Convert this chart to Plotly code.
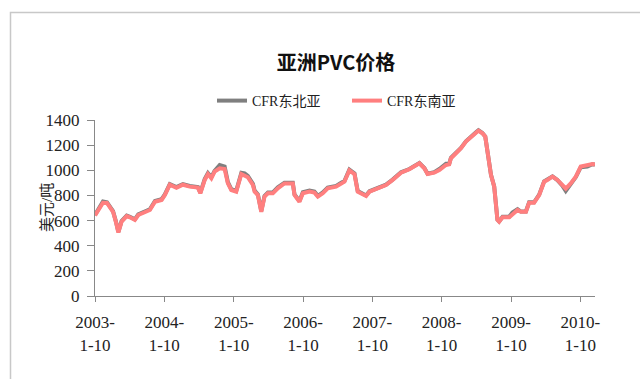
import plotly.graph_objects as go

# Weekly-ish observations, USD/tonne
dates = [
    "2003-01-10", "2003-02-05", "2003-02-21", "2003-03-14", "2003-03-30", "2003-04-15",
    "2003-04-30", "2003-05-13", "2003-05-30", "2003-06-26", "2003-07-13", "2003-08-08",
    "2003-08-26", "2003-09-30", "2003-10-26", "2003-11-22", "2003-12-27", "2004-01-13",
    "2004-02-08", "2004-03-14", "2004-04-17", "2004-05-23", "2004-07-05", "2004-07-18",
    "2004-08-10", "2004-08-27", "2004-09-14", "2004-10-01", "2004-10-28", "2004-11-23",
    "2004-12-10", "2004-12-28", "2005-01-23", "2005-02-19", "2005-03-08", "2005-03-25",
    "2005-04-21", "2005-04-30", "2005-05-17", "2005-06-04", "2005-06-21", "2005-07-09",
    "2005-08-04", "2005-08-30", "2005-10-04", "2005-11-17", "2005-11-26", "2005-12-22",
    "2006-01-09", "2006-02-13", "2006-03-11", "2006-03-29", "2006-04-24", "2006-05-20",
    "2006-07-03", "2006-07-30", "2006-08-16", "2006-09-11", "2006-10-08", "2006-10-25",
    "2006-11-12", "2006-12-08", "2006-12-26", "2007-01-30", "2007-02-16", "2007-03-23",
    "2007-04-27", "2007-06-10", "2007-07-24", "2007-09-15", "2007-10-11", "2007-10-28",
    "2007-12-02", "2007-12-29", "2008-02-02", "2008-02-19", "2008-02-28", "2008-03-26",
    "2008-04-21", "2008-05-17", "2008-06-12", "2008-07-09", "2008-07-22", "2008-08-12",
    "2008-08-27", "2008-09-08", "2008-09-26", "2008-10-13", "2008-10-30", "2008-11-08",
    "2008-11-26", "2008-12-31", "2009-01-17", "2009-02-13", "2009-03-02", "2009-03-29",
    "2009-04-15", "2009-05-11", "2009-06-07", "2009-07-03", "2009-07-20", "2009-08-16",
    "2009-09-11", "2009-10-07", "2009-10-25", "2009-11-20", "2009-12-17", "2010-01-12",
    "2010-02-16", "2010-03-14", "2010-03-28",
]

cfr_se_asia = [
    640, 700, 742, 740, 697, 670,
    590, 505, 591, 636, 626, 605,
    644, 670, 684, 750, 764, 803,
    885, 860, 885, 870, 862, 817,
    923, 970, 936, 989, 1016, 1010,
    896, 843, 830, 970, 960, 945,
    883, 830, 803, 670, 790, 817,
    817, 857, 895, 895, 803, 750,
    817, 830, 822, 790, 817, 857,
    870, 895, 909, 1000, 970, 830,
    817, 796, 830, 849, 865, 883,
    923, 981, 1008, 1055, 1016, 970,
    981, 1002, 1042, 1048, 1096, 1135,
    1175, 1228, 1267, 1299, 1315, 1294,
    1267, 1135, 963, 870, 605, 591,
    626, 626, 652, 685, 670, 670,
    742, 742, 803, 909, 923, 950,
    923, 883, 855, 896, 949, 1030,
    1040, 1050, 1045,
]

cfr_ne_asia = [
    645, 708, 752, 745, 705, 675,
    595, 510, 596, 640, 630, 610,
    650, 676, 690, 756, 770, 808,
    890, 866, 890, 875, 866, 822,
    930, 978, 945, 995, 1042, 1030,
    905, 850, 836, 980, 975, 955,
    892, 838, 808, 676, 796, 823,
    824, 864, 900, 900, 808, 756,
    825, 838, 830, 797, 823, 862,
    876, 900, 914, 1005, 975, 835,
    820, 800, 833, 852, 868, 886,
    926, 984, 1010, 1058, 1018, 972,
    985, 1010, 1052, 1052, 1100, 1138,
    1178, 1230, 1270, 1302, 1318, 1296,
    1268, 1136, 964, 872, 607, 593,
    630, 630, 665, 690, 672, 672,
    745, 745, 806, 912, 925, 952,
    922, 878, 835, 892, 946, 1025,
    1030, 1048, 1045,
]

tick_dates = ["2003-01-10", "2004-01-10", "2005-01-10", "2006-01-10",
              "2007-01-10", "2008-01-10", "2009-01-10", "2010-01-10"]
tick_labels = ["2003-<br>1-10", "2004-<br>1-10", "2005-<br>1-10", "2006-<br>1-10",
               "2007-<br>1-10", "2008-<br>1-10", "2009-<br>1-10", "2010-<br>1-10"]
y_ticks = [0, 200, 400, 600, 800, 1000, 1200, 1400]

serif = "Liberation Serif, Noto Sans CJK SC, serif"

fig = go.Figure()
fig.add_trace(go.Scatter(
    x=dates, y=cfr_ne_asia, mode="lines", name="CFR东北亚",
    line=dict(color="#7f7f7f", width=4),
))
fig.add_trace(go.Scatter(
    x=dates, y=cfr_se_asia, mode="lines", name="CFR东南亚",
    line=dict(color="#ff7f7f", width=4),
))

fig.update_layout(
    width=640, height=379,
    margin=dict(l=95, r=45, t=120, b=83),
    paper_bgcolor="white", plot_bgcolor="white",
    font=dict(family=serif, size=17, color="#222222"),
    title=dict(
        text="<b>亚洲PVC价格</b>",
        font=dict(family="Noto Sans CJK SC, sans-serif", size=20, color="#111111"),
        x=336 / 640, xanchor="center", xref="container",
        y=1 - 63 / 379, yanchor="middle", yref="container",
    ),
    legend=dict(
        orientation="h", x=(212 - 95) / 500, xanchor="left",
        y=(296 - 101) / 176, yanchor="middle",
        font=dict(family=serif, size=14, color="#222222"),
        entrywidth=90, entrywidthmode="pixels",
        bgcolor="rgba(0,0,0,0)", tracegroupgap=0,
    ),
    showlegend=True,
)

fig.update_xaxes(
    type="date",
    range=["2003-01-10", "2010-03-28"],
    tickmode="array", tickvals=tick_dates, ticktext=tick_labels,
    ticks="outside", ticklen=5, tickcolor="#888888", tickwidth=1,
    showline=True, linecolor="#888888", linewidth=1,
    showgrid=False, zeroline=False,
    tickfont=dict(family=serif, size=17, color="#222222"),
    ticklabelstandoff=6,
)
fig.update_yaxes(
    range=[0, 1400],
    tickmode="array", tickvals=y_ticks,
    ticks="outside", ticklen=7, tickcolor="#888888", tickwidth=1,
    showline=True, linecolor="#888888", linewidth=1,
    showgrid=False, zeroline=False,
    tickfont=dict(family=serif, size=17, color="#222222"),
    ticklabelstandoff=4,
)

# y-axis caption
fig.add_annotation(
    text="美元/吨", textangle=-90,
    xref="paper", yref="paper",
    x=(47 - 95) / 500, y=(296 - 208) / 176,
    xanchor="center", yanchor="middle", showarrow=False,
    font=dict(family=serif, size=15, color="#222222"),
)

# outer chart frame
fig.add_shape(
    type="rect", xref="paper", yref="paper",
    x0=(10.5 - 95) / 500, x1=(660 - 95) / 500,
    y0=(296 - 400) / 176, y1=(296 - 12.5) / 176,
    line=dict(color="#c8c8c8", width=1.5), fillcolor="rgba(0,0,0,0)",
    layer="below",
)

fig.write_html("out.html")
